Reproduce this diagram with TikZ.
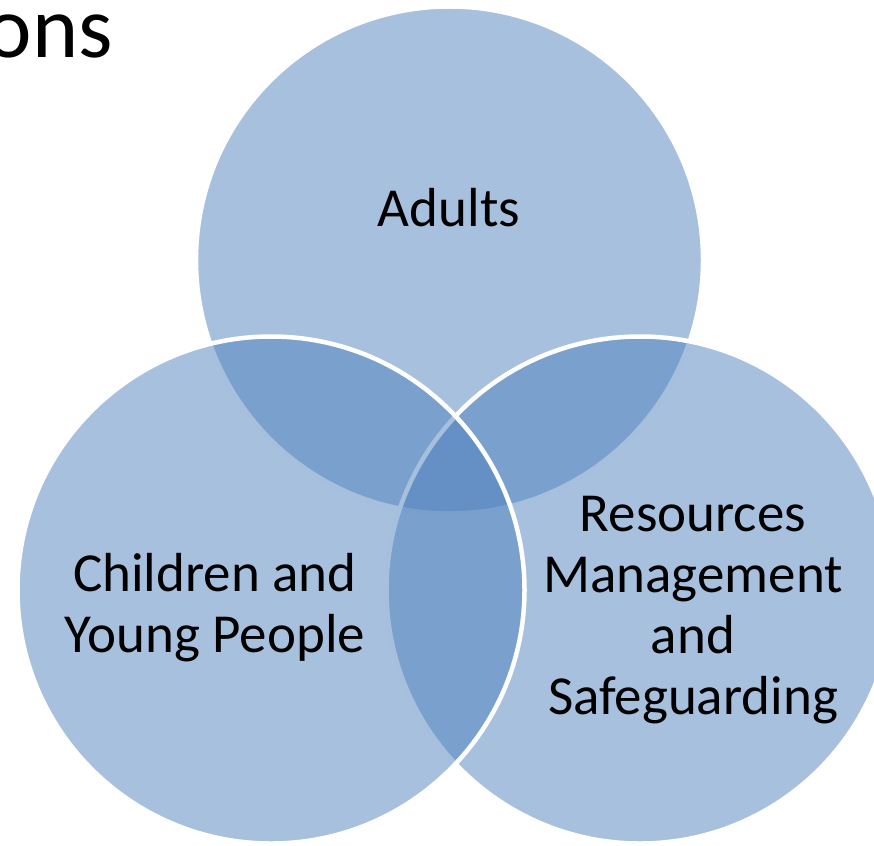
\documentclass[tikz,border=0pt]{standalone}
\usepackage{fontspec}
\setmainfont{Carlito}
\definecolor{vennblue}{HTML}{4F81BD}

\begin{document}
\begin{tikzpicture}[x=1pt,y=-1pt]
        \tikzstyle{every node}+=[inner sep=0pt]
        \tikzstyle{venn}=[circle, minimum size=507pt, fill=vennblue, fill opacity=0.5, draw=white, line width=4.5pt]
        \tikzstyle{label}=[font=\fontsize{55}{61}\selectfont, align=center, anchor=base]
        \useasboundingbox (0,0) rectangle (874,845);
        \node [venn] (adults) at (449.5,260) {};
        \node [venn] (resources) at (640,590) {};
        \node [venn] (children) at (271,590) {};
        \node [font=\fontsize{88}{100}\selectfont, anchor=base east] (title) at (113,58) {ons};
        \node [label] (adultstext) at (449,226) {Adults};
        \node [label] (childrentext) at (215,652) {Children and\\Young People};
        \node [label] (resourcestext) at (693,714) {Resources\\Management\\and\\Safeguarding};
        \end{tikzpicture}
\end{document}
